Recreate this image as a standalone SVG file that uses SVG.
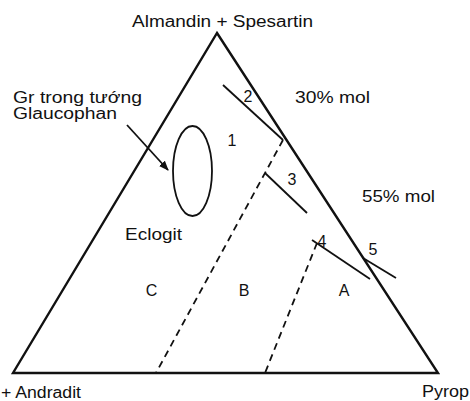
<svg xmlns="http://www.w3.org/2000/svg" width="470" height="401" viewBox="0 0 470 401">
<style>
.t{font-family:"Liberation Sans",Arial,sans-serif;font-size:16px;fill:#111;}
.edge{fill:none;stroke:#111;stroke-width:2.4;stroke-linejoin:miter;}
.ln{fill:none;stroke:#111;stroke-width:1.8;}
.dash{fill:none;stroke:#111;stroke-width:1.8;stroke-dasharray:7 5;}
</style>
<defs>
<marker id="ah" markerWidth="10" markerHeight="8" refX="9" refY="4" orient="auto" markerUnits="userSpaceOnUse">
<path d="M0,0 L10,4 L0,8 Z" fill="#111"/>
</marker>
</defs>
<rect width="470" height="401" fill="#ffffff"/>
<g id="triangle">
<path class="edge" d="M217,33 L438,373 L13,373 Z"/>
</g>
<g id="boundaries">
<line class="dash" x1="283" y1="140" x2="156" y2="373"/>
<line class="dash" x1="317" y1="243" x2="265" y2="373"/>
</g>
<g id="line2">
<line class="ln" x1="223" y1="85" x2="283" y2="140"/>
<text class="t" x="248" y="102" text-anchor="middle">2</text>
</g>
<g id="line3">
<line class="ln" x1="265" y1="173" x2="307" y2="213"/>
<text class="t" x="292" y="185" text-anchor="middle">3</text>
</g>
<g id="line4">
<line class="ln" x1="312" y1="240" x2="370" y2="279"/>
<text class="t" x="322" y="247" text-anchor="middle">4</text>
</g>
<g id="line5">
<line class="ln" x1="363" y1="258" x2="396" y2="278"/>
<text class="t" x="373" y="255" text-anchor="middle">5</text>
</g>
<g id="glaucophan-field">
<ellipse class="ln" cx="192.5" cy="171" rx="19.5" ry="45"/>
</g>
<g id="labels">
<text class="t" x="132" y="26.5" textLength="181" lengthAdjust="spacingAndGlyphs">Almandin + Spesartin</text>
<text class="t" x="295" y="103" textLength="75" lengthAdjust="spacingAndGlyphs">30% mol</text>
<text class="t" x="362" y="201.5" textLength="73" lengthAdjust="spacingAndGlyphs">55% mol</text>
<text class="t" x="13" y="102.5" textLength="129" lengthAdjust="spacingAndGlyphs">Gr trong tướng</text>
<text class="t" x="13" y="118.5" textLength="104" lengthAdjust="spacingAndGlyphs">Glaucophan</text>
<text class="t" x="232" y="146" text-anchor="middle">1</text>
<text class="t" x="125" y="240" textLength="57" lengthAdjust="spacingAndGlyphs">Eclogit</text>
<text class="t" x="151.5" y="296" text-anchor="middle">C</text>
<text class="t" x="244" y="296" text-anchor="middle">B</text>
<text class="t" x="344" y="296" text-anchor="middle">A</text>
<text class="t" x="1" y="397.5" textLength="80" lengthAdjust="spacingAndGlyphs">+ Andradit</text>
<text class="t" x="422" y="397" textLength="47" lengthAdjust="spacingAndGlyphs">Pyrop</text>
</g>
<g id="connectors">
<line class="ln" x1="127" y1="125" x2="168" y2="170" stroke-width="1.5" marker-end="url(#ah)"/>
</g>
</svg>
